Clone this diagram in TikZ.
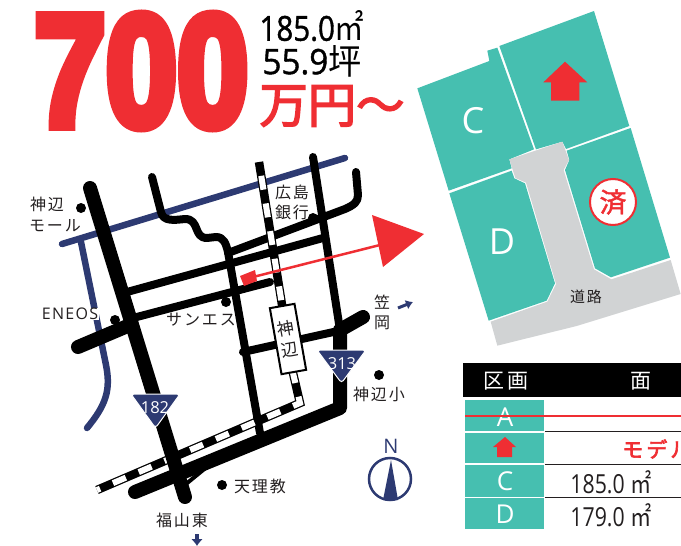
\documentclass[tikz,border=0pt]{standalone}
\usepackage{fontspec}
\usepackage{graphicx}
\usetikzlibrary{arrows.meta}
\setmainfont{Open Sans}
\newfontfamily\jp{Noto Sans CJK JP}
\newfontfamily\jps[LetterSpace=12]{Noto Sans CJK JP}
\newfontfamily\jpb[FakeBold=1.5]{Noto Sans CJK JP}
\newfontfamily\jpc[FakeBold=3]{Noto Sans CJK JP}
\newfontfamily\semi[FakeBold=1.2]{Open Sans}
\newfontfamily\heavy[FakeBold=6.5]{Liberation Sans Bold}
\definecolor{teal1}{HTML}{46BFB0}
\definecolor{red1}{HTML}{EF2E33}
\definecolor{navy1}{HTML}{2D3A72}
\definecolor{gray1}{HTML}{D1D3D4}
\definecolor{ink}{HTML}{231F20}
\tikzset{
  lbl/.style={inner sep=0pt,text=ink},
  maptext/.style={lbl,font=\jps\fontsize{16}{16}\selectfont},
  road/.style={line width=8pt,line cap=round,line join=round,black},
  thick road/.style={line width=14pt,line cap=round,line join=round,black},
  blue road/.style={line width=6.5pt,line cap=round,line join=round,navy1},
  lot/.style={fill=teal1,draw=none},
  cell/.style={fill=teal1,draw=none},
  dot/.style={circle,fill=black,inner sep=0pt,minimum size=10pt},
  shield/.style={fill=navy1,draw=white,line width=1pt,rounded corners=3pt},
  rule/.style={line width=1pt,ink},
  celltext/.style={lbl,text=white,font=\fontsize{26}{26}\selectfont},
  areatext/.style={lbl,font=\fontsize{25}{25}\selectfont},
}
\begin{document}
\begin{tikzpicture}[x=1pt,y=-1pt]
\useasboundingbox (0,0) rectangle (681,546);
% headline
\node[inner sep=0pt,text=red1] (price) at (141.5,71) {\resizebox{214pt}{111pt}{\heavy 700}};
\node[lbl,text=black] (area1) at (312,26) {\resizebox{105pt}{30pt}{\semi\fontsize{34}{34}\selectfont 185.0{\jp ㎡}}};
\node[lbl,text=black] (area2) at (312,61) {\resizebox{99pt}{29pt}{\semi\fontsize{34}{34}\selectfont 55.9{\jp 坪}}};
\node[lbl,text=red1] (yen) at (332,106) {\resizebox{145pt}{!}{\jpc\fontsize{44}{44}\selectfont 万円～}};
% blue roads
\draw[blue road] (62,244) -- (345,158);
\draw[blue road] (81,242) -- (106,365) .. controls (111,390) and (106,405) .. (87,428);
% roads
\draw[road] (152,177) -- (161,212) .. controls (163,222) and (175,220) .. (185,219)
  .. controls (200,219) and (193,238) .. (207,238) -- (216,237)
  .. controls (224,237) and (226,244) .. (228,252) -- (260,433);
\draw[road] (127,292) -- (323,238);
\draw[road] (228,253) -- (345,209) .. controls (354,205) and (358,202) .. (358,195) -- (356,172);
\draw[road] (133,318) -- (270,282);
\draw[road] (243,352) -- (338,331);
\draw[road] (313,157) -- (340,330);
% railway
\draw[line width=8.5pt,black] (259,162) -- (293,373) -- (300,403) -- (97,490);
\draw[line width=6pt,white,dash pattern=on 14pt off 14pt,dash phase=14pt] (259,162) -- (293,373) -- (300,403) -- (97,490);
% thick roads
\draw[thick road] (90,188) -- (185,497);
\draw[thick road] (78,347) -- (130,325);
\draw[thick road] (363,317) -- (340,330) -- (340,408) -- (135,492);
\draw[line width=4pt,black] (186,484) -- (208,466);
% station
\node[draw=black,fill=white,line width=2pt,minimum width=25pt,minimum height=67pt,rotate=10,inner sep=0pt,
  align=center,font=\jp\fontsize{17}{22}\selectfont,text=ink] (station) at (288,339) {神\\辺};
% shields
\draw[shield] (131,394) -- (180,394) -- (155.5,428) -- cycle;
\node[lbl,text=white,font=\fontsize{16.5}{16.5}\selectfont] (r182) at (155,408) {182};
\draw[shield] (317,350) -- (366,350) -- (341.5,383) -- cycle;
\node[lbl,text=white,font=\fontsize{16.5}{16.5}\selectfont] (r313) at (342,364) {313};
% dots
\node[dot] (d1) at (81,208) {};
\node[dot] (d2) at (115,320) {};
\node[dot] (d3) at (226,302) {};
\node[dot] (d4) at (313,218) {};
\node[dot] (d5) at (379,375) {};
\node[dot] (d6) at (222,485) {};
% map text
\node[maptext] (t1) at (47,204) {神辺};
\node[maptext] (t2) at (55,226) {モール};
\node[lbl,fill=white,inner xsep=1pt,font=\addfontfeature{LetterSpace=8}\fontsize{16}{16}\selectfont] (t3) at (70,314) {ENEOS};
\node[maptext] (t4) at (201,320) {サンエス};
\node[maptext] (t5) at (292,192) {広島};
\node[maptext] (t6) at (292,212) {銀行};
\node[maptext] (t7) at (382,302) {笠};
\node[maptext] (t8) at (382,323) {岡};
\node[maptext] (t9) at (182,520) {福山東};
\node[maptext] (t10) at (260,486) {天理教};
\node[maptext] (t11) at (379,394) {神辺小};
% small direction arrows
\coordinate (ka) at (398,308);
\coordinate (kb) at (413,302);
\draw[navy1,line width=3pt,-{Latex[length=7pt,width=10pt]}] (ka) -- (kb);
\coordinate (fa) at (197,534);
\coordinate (fb) at (197,546);
\draw[navy1,line width=3.5pt,-{Latex[length=7pt,width=12pt]}] (fa) -- (fb);
% north
\node[lbl,text=navy1,font=\fontsize{20}{20}\selectfont] (north) at (391,446) {N};
\node[circle,draw=navy1,line width=2.5pt,minimum size=42pt,inner sep=0pt] (ncirc) at (390,479) {};
\fill[navy1] (391,460) -- (398,500) -- (383,500) -- cycle;
% red arrow to plot
\fill[red1] (240,276) -- (255,270) -- (257,281) -- (244,286) -- cycle;
\coordinate (pa) at (253,277);
\coordinate (pb) at (380,245);
\draw[red1,line width=2.5pt] (pa) -- (pb);
\fill[red1] (372,215) -- (424,234) -- (383,267) -- cycle;
% plots
\begin{scope}[shift={(410,0)},x=.33333pt,y=-.33333pt]
\fill[lot] (268,138) -- (552,33) -- (658,378) -- (468,447) -- (457,425) -- (378,448) -- cycle;
\fill[lot] (22,265) -- (238,183) -- (232,152) -- (262,143) -- (372,448) -- (298,478) -- (305,505) -- (116,572) -- cycle;
\fill[lot] (118,580) -- (305,512) -- (313,535) -- (345,550) -- (435,850) -- (410,902) -- (236,962) -- cycle;
\fill[lot] (662,384) -- (780,773) -- (603,832) -- (555,805) -- (465,510) -- (478,480) -- (470,452) -- cycle;
\fill[gray1] (298,478) -- (457,425) -- (477,480) -- (461,510) -- (552,808) -- (604,838) -- (782,780) -- (812,882) -- (500,978) -- (262,1037) -- (242,965) -- (412,905) -- (438,852) -- (348,548) -- (316,534) -- cycle;
\fill[red1] (400,247) -- (465,185) -- (532,247) -- (508,247) -- (508,302) -- (423,302) -- (423,247) -- cycle;
\end{scope}
\node[lbl,text=white,font=\fontsize{36}{36}\selectfont] (lc) at (473,121) {C};
\node[lbl,text=white,font=\fontsize{36}{36}\selectfont] (ld) at (502,242) {D};
\node[lbl,font=\jps\fontsize{15}{15}\selectfont,text=ink] (road) at (586,297) {道路};
\node[circle,fill=white,draw=red1,line width=2pt,minimum size=46pt,inner sep=0pt,text=red1,font=\jpb\fontsize{27}{27}\selectfont] (sumi) at (613,202) {済};
% table
\fill[black] (463,363) rectangle (681,397);
\node[lbl,text=white,font=\jps\fontsize{21}{21}\selectfont] (h1) at (506,381) {区画};
\node[lbl,text=white,font=\jp\fontsize{21}{21}\selectfont] (h2) at (641,381) {面};
\fill[cell] (465,400) rectangle (544,431);
\fill[cell] (465,433) rectangle (544,463);
\fill[cell] (465,465) rectangle (544,497);
\fill[cell] (465,498) rectangle (544,529);
\draw[rule] (545,431) -- (681,431);
\draw[rule] (545,464) -- (681,464);
\draw[rule] (545,497) -- (681,497);
\node[celltext] (ca) at (505,417) {A};
\draw[red1,line width=2.5pt] (465,416) -- (681,416);
\fill[red1] (493,447) -- (505,437) -- (516,447) -- (512,447) -- (512,457) -- (497,457) -- (497,447) -- cycle;
\node[celltext] (cc) at (505,481) {C};
\node[celltext] (cd) at (505,514) {D};
\node[lbl,anchor=west,text=red1,font=\jpc\addfontfeature{LetterSpace=15}\fontsize{21}{21}\selectfont] (model) at (622,449) {モデル};
\node[areatext] (a1) at (611,482) {\scalebox{.85}[1.05]{185.0 {\jp ㎡}}};
\node[areatext] (a2) at (611,515) {\scalebox{.85}[1.05]{179.0 {\jp ㎡}}};
\end{tikzpicture}
\end{document}
